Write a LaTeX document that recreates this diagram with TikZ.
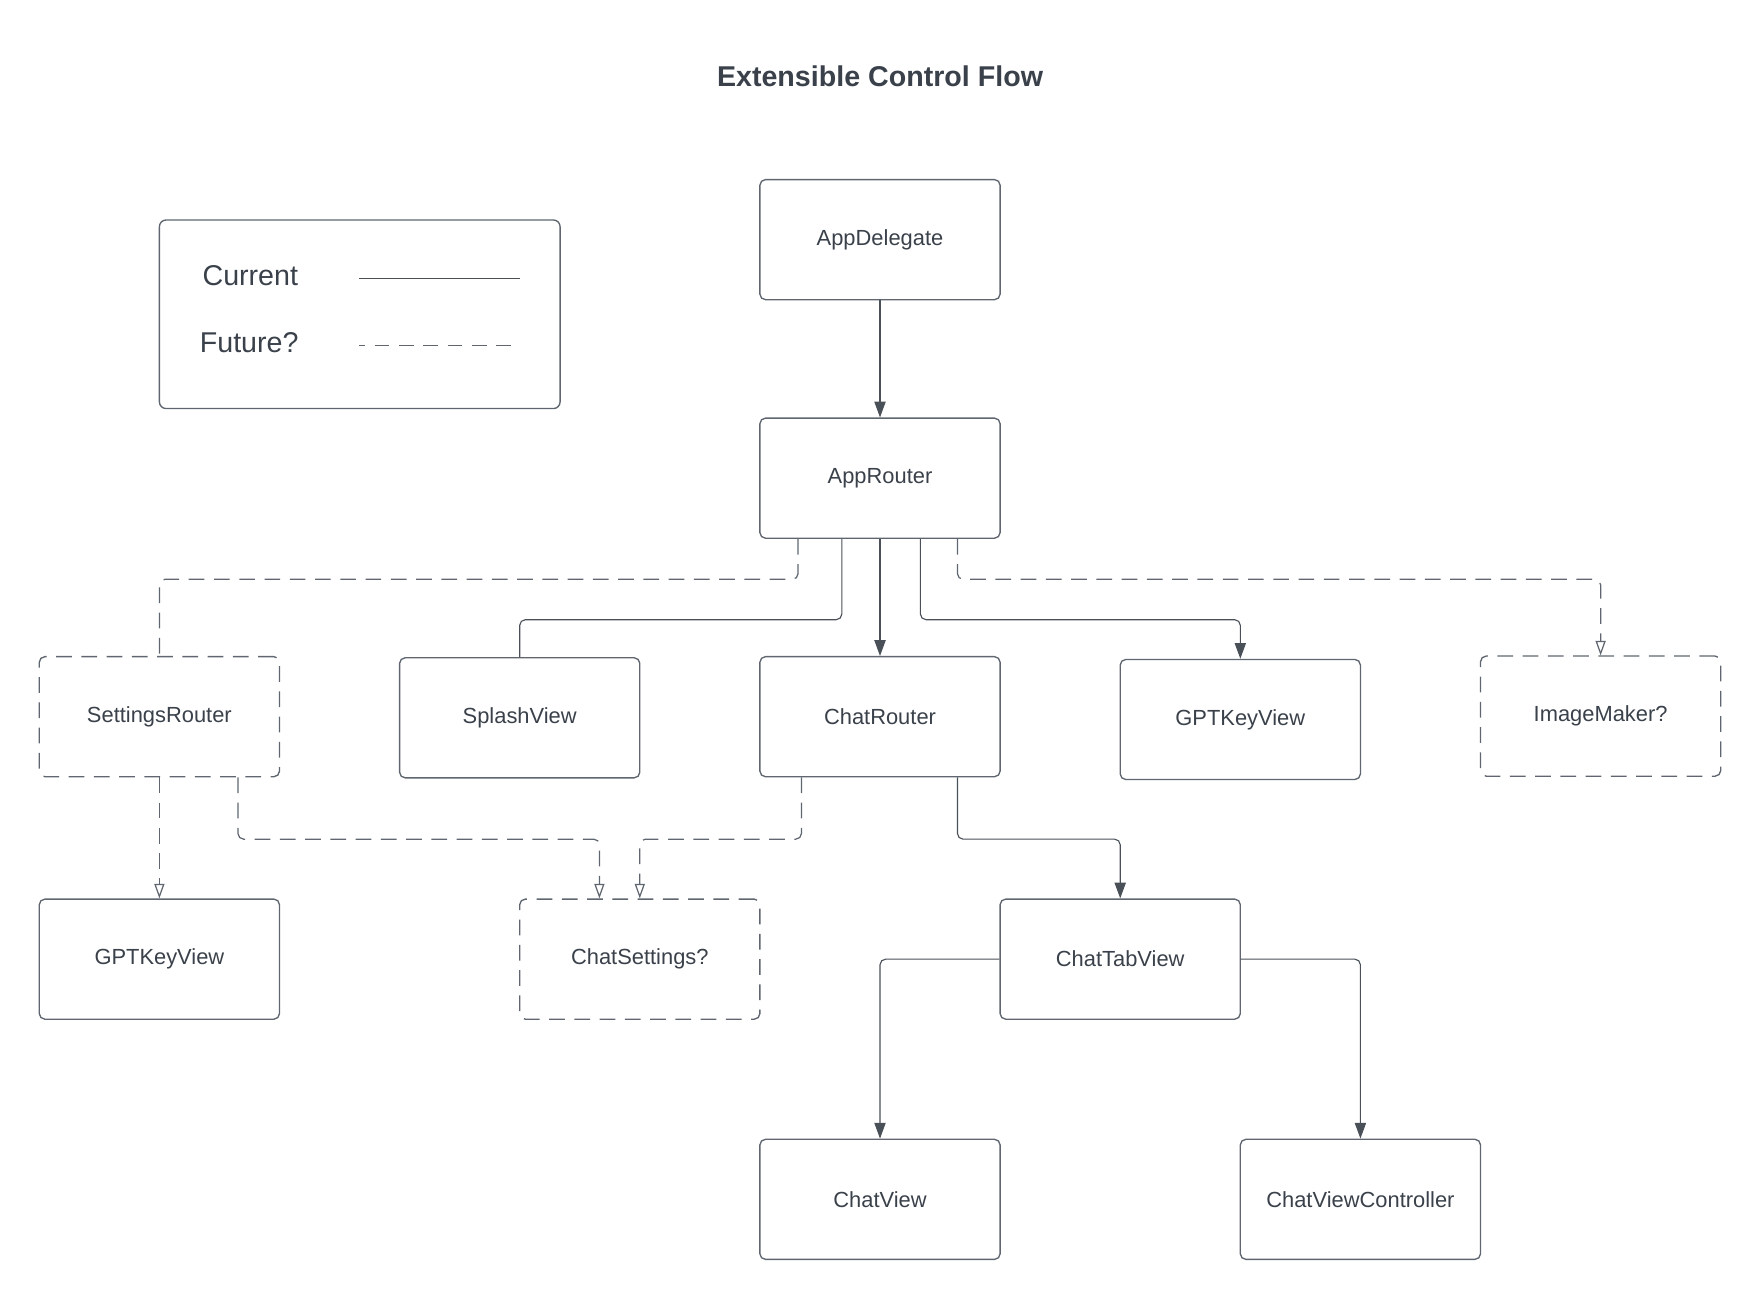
\documentclass[tikz,border=0pt]{standalone}
\usepackage{fontspec}
\setmainfont{Liberation Sans}
\usetikzlibrary{arrows.meta}
\definecolor{txt}{HTML}{3A414A}
\definecolor{boxc}{HTML}{5F6670}
\definecolor{linec}{HTML}{4A5058}
\tikzset{
  box/.style={draw=boxc, line width=1.2pt, rounded corners=5pt, minimum width=214pt, minimum height=107pt, inner sep=0pt, text=txt, font=\fontsize{19.5}{23}\selectfont},
  fbox/.style={box, dash pattern=on 14pt off 8.5pt},
  cur/.style={draw=linec, line width=1pt, rounded corners=5pt},
  fut/.style={draw=boxc, line width=1.1pt, rounded corners=5pt, dash pattern=on 14pt off 8.5pt},
  solidtip/.style={-{Triangle[length=14pt,width=10pt]}},
  opentip/.style={-{Triangle[open,length=13pt,width=9pt]}},
}
\begin{document}
\begin{tikzpicture}[x=1pt,y=-1pt]
\useasboundingbox (0,0) rectangle (1568,1158);
\node[text=txt, font=\bfseries\fontsize{25.5}{30}\selectfont] (title) at (784,68) {Extensible Control Flow};

% legend
\node[draw=boxc, line width=1.2pt, rounded corners=6pt, minimum width=357pt, minimum height=168pt, inner sep=0pt] (legend) at (320.5,280) {};
\node[text=txt, font=\fontsize{25.5}{30}\selectfont] (lcur) at (223,246) {Current};
\node[text=txt, font=\fontsize{25.5}{30}\selectfont] (lfut) at (222,305) {Future?};
\coordinate (c1) at (320,248);
\coordinate (c2) at (463,248);
\coordinate (f1) at (320,308);
\coordinate (f2) at (463,308);
\draw[cur] (c1) -- (c2);
\draw[fut, dash pattern=on 13pt off 8.7pt, dash phase=8pt] (f1) -- (f2);

% nodes
\node[box] (ad) at (784,213.5) {AppDelegate};
\node[box] (ar) at (784,426) {AppRouter};
\node[fbox] (sr) at (142,638.5) {SettingsRouter};
\node[box] (sv) at (463,639.5) {SplashView};
\node[box] (cr) at (784,638.5) {ChatRouter};
\node[box] (gk2) at (1105,641) {GPTKeyView};
\node[fbox] (im) at (1426,638) {ImageMaker?};
\node[box] (gk1) at (142,854.5) {GPTKeyView};
\node[fbox] (cs) at (570,854.5) {ChatSettings?};
\node[box] (ctv) at (998,854.5) {ChatTabView};
\node[box] (cv) at (784,1068.5) {ChatView};
\node[box] (cvc) at (1212,1068.5) {ChatViewController};

% connectors
\draw[cur, solidtip] (ad.south) -- (ar.north);
\draw[fut] ([xshift=-73pt]ar.south) -- ++(0,36) -| (sr.north);
\draw[cur] ([xshift=-34pt]ar.south) -- ++(0,72) -| (sv.north);
\draw[cur, solidtip] (ar.south) -- (cr.north);
\draw[cur, solidtip] ([xshift=36pt]ar.south) -- ++(0,72) -| (gk2.north);
\draw[fut, opentip] ([xshift=69pt]ar.south) -- ++(0,36) -| (im.north);
\draw[fut, opentip] (sr.south) -- (gk1.north);
\draw[fut, opentip] ([xshift=70pt]sr.south) -- ++(0,55) -| ([xshift=-36pt]cs.north);
\draw[fut, opentip] ([xshift=-70pt]cr.south) -- ++(0,55) -| (cs.north);
\draw[cur, solidtip] ([xshift=69pt]cr.south) -- ++(0,55) -| (ctv.north);
\draw[cur, solidtip] (ctv.west) -| (cv.north);
\draw[cur, solidtip] (ctv.east) -| (cvc.north);
\end{tikzpicture}
\end{document}
